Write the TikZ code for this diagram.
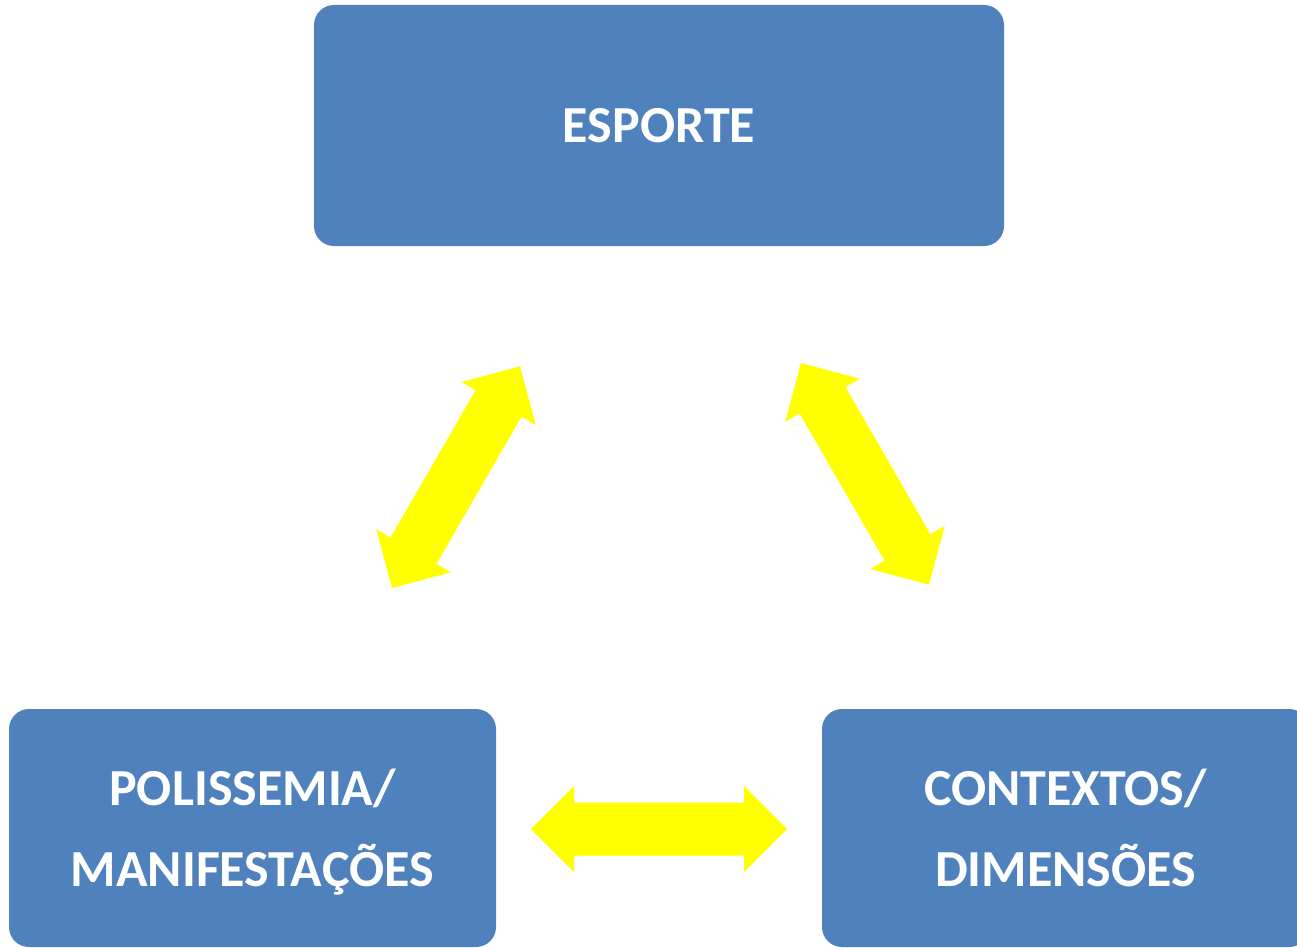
\documentclass[tikz,border=0pt]{standalone}
\usepackage{fontspec}
\setmainfont{Carlito}
\definecolor{boxblue}{HTML}{4F81BD}
\definecolor{arrowyellow}{HTML}{FFFF00}
\tikzset{
  topic/.style={rounded corners=20pt, fill=boxblue, text=white,
    font=\bfseries\fontsize{52}{81}\selectfont, align=center, inner sep=0pt},
  dblarrow/.pic={
    \fill[arrowyellow] (0,0) -- (43,43) -- (43,26.5) -- (213,26.5) -- (213,43)
      -- (256,0) -- (213,-43) -- (213,-26.5) -- (43,-26.5) -- (43,-43) -- cycle;
  }
}
\begin{document}
\begin{tikzpicture}[x=1pt,y=-1pt]
\useasboundingbox (0,0) rectangle (1297,947);
\node[topic, minimum width=690pt, minimum height=241pt] (esporte) at (659,125.5) {ESPORTE};
\node[topic, minimum width=487pt, minimum height=238pt] (poli) at (252.5,828) {POLISSEMIA/\\MANIFESTA\raisebox{0pt}[\height][0pt]{Ç}ÕES};
\node[topic, minimum width=487pt, minimum height=238pt] (cont) at (1065.5,828) {CONTEXTOS/\\DIMENSÕES};
\coordinate (la) at (392,588);
\coordinate (ra) at (801,363);
\coordinate (ha) at (531,829);
\pic[rotate=60] at (la) {dblarrow};
\pic[rotate=-60] at (ra) {dblarrow};
\pic at (ha) {dblarrow};
\end{tikzpicture}
\end{document}
